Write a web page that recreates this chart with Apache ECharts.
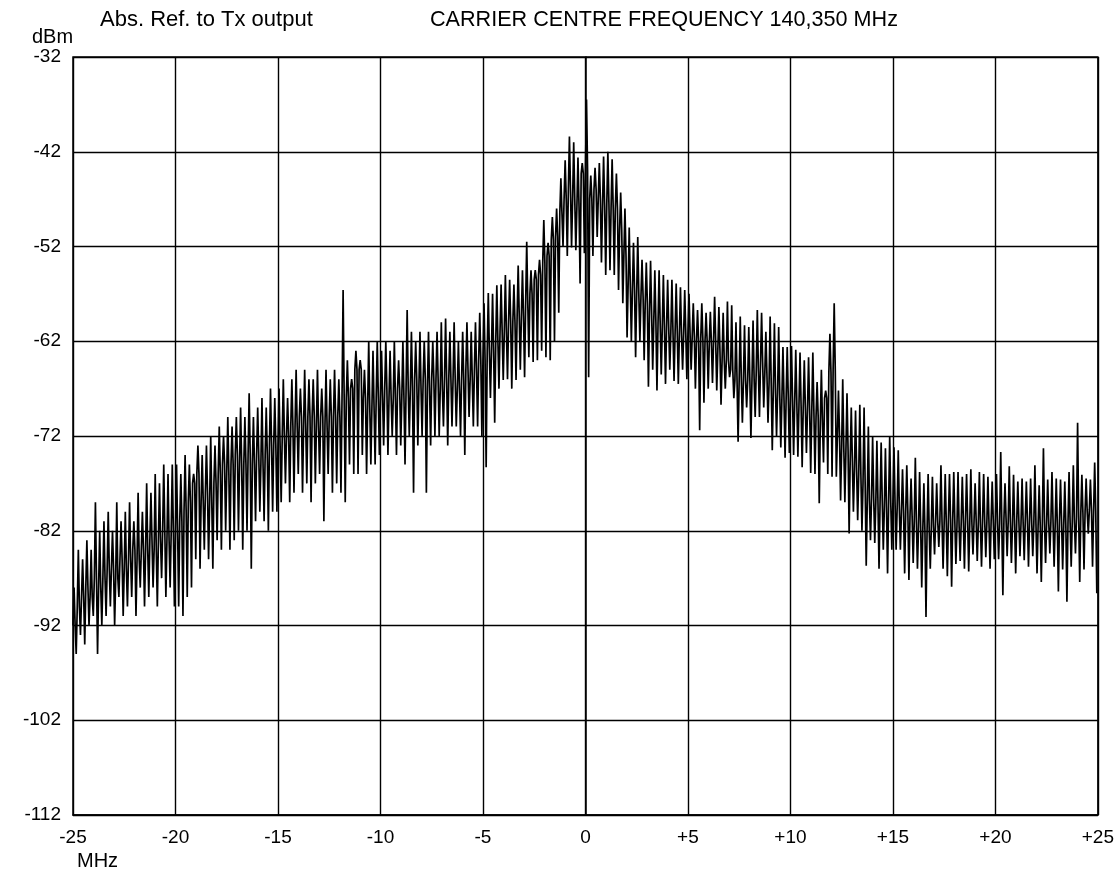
<!DOCTYPE html>
<html><head><meta charset="utf-8">
<script src="https://cdn.jsdelivr.net/npm/echarts@6/dist/echarts.min.js"></script>
<style>html,body{margin:0;padding:0;background:#fff}#c{width:1117px;height:874px}</style>
</head><body><div id="c"></div>
<script>
// Sweep span of the analyser (MHz offset from carrier 140.350 MHz)
const sweepStartMHz = -25;
const sweepStopMHz = 25;
// Display reference (bottom of screen) and top of screen, dBm
const displayBottomDbm = -112;
const displayTopDbm = -32;
const dbPerDiv = 10;
const mhzPerDiv = 5;

// Readings per comb line, 24 per 5 MHz division (one row per division)
const spikeTops = [
  -88, -84, -85, -83, -84, -79, -82, -81, -80, -82, -79, -81, -80, -79, -81, -78, -80, -77, -78, -76, -77, -75, -76, -75,
  -75, -76, -74, -75, -76, -73, -74, -73, -72, -73, -71, -72, -70, -71, -70, -69, -70, -67.5, -70, -69, -68, -69, -67, -68,
  -67, -66, -68, -66, -65, -67, -65, -66, -66, -65, -67, -65, -66, -65, -66, -56.6, -64, -66, -63, -64, -65, -62, -63, -62,
  -63, -62, -63, -62, -64, -62, -58.7, -61, -62, -61, -62, -61, -62, -61, -60, -59.6, -61, -60, -62, -61, -60, -61, -60, -59,
  -58, -56.9, -57, -56.1, -56, -55, -55.5, -56, -54, -54.5, -51.5, -54.5, -54.5, -53.4, -49.2, -51.6, -48.9, -48, -44.8, -42.9, -40.4, -41, -42.6, -43.2,
  -36.5, -44.5, -43.7, -43.2, -42.5, -42, -42.8, -44.3, -46.3, -48, -50, -51.6, -51, -53.4, -53.7, -53.5, -54.5, -54.5, -55, -55.5, -55.5, -55.9, -56.3, -56.6,
  -57, -58, -58.7, -58, -59, -58.9, -57.3, -58.4, -59, -57.8, -58.2, -60, -59.4, -60.3, -60.5, -59.8, -58.7, -59, -61, -59.4, -60.1, -60.5, -62.6, -62.6,
  -62.5, -62.9, -63.2, -64, -63.7, -63.2, -66.3, -65, -67.2, -61.2, -58, -67.2, -66, -67.5, -69, -69.3, -68.7, -69, -71, -72.1, -72.5, -72.7, -73.3, -72,
  -73.2, -73.5, -75.5, -75.1, -76.5, -74.3, -75.8, -77, -76, -76.3, -77, -75.1, -76, -76, -75.8, -75.8, -76.3, -76, -75.5, -77, -75.8, -76, -76.3, -76.8,
  -76, -73.7, -77, -75.2, -76.1, -76.8, -76.5, -76.8, -76.5, -75.1, -77.2, -73.3, -76.6, -75.8, -76.5, -76.6, -76.8, -75.8, -75.1, -70.6, -76.1, -76.5, -76.6, -74.8
];
const traceMids = [
  -92, -90, -89, -88, -89, -87, -88, -87, -86, -86, -87, -85, -86, -85, -84, -85, -84, -84, -83, -84, -83, -82, -83, -82,
  -82, -81, -80, -79, -77, -76, -79, -78, -79, -77, -76, -75, -76, -75, -74, -75, -75, -74, -75, -74, -75, -74, -73, -73,
  -73, -72, -72, -71, -71, -70, -71, -70, -70, -71, -70, -71, -70, -70, -70, -68, -68, -67, -65, -65, -68, -69, -69, -68,
  -68, -67, -68, -68, -67, -68, -67, -67, -66, -67, -66, -67, -66, -66, -67, -66, -66, -66, -67, -66, -65, -66, -65, -64,
  -64, -63, -63, -62, -61, -61, -60, -60, -59.4, -59.4, -58, -57, -55.5, -55, -53.7, -53, -51.3, -51, -48.5, -47, -46, -47, -47.8, -44.3,
  -44, -47, -46, -47, -47.8, -47.5, -48, -48, -50.3, -53, -56, -56.6, -57, -57.3, -58, -59, -60, -60.1, -60.5, -60.5, -61, -61, -61.2, -61.2,
  -61.2, -61.5, -62, -61.8, -62, -62.2, -62, -63, -64, -64, -65, -66.1, -66, -66.1, -66.1, -66, -65, -64.3, -65.5, -66.4, -67, -67.5, -68.2, -68,
  -68.2, -68.5, -68.8, -69, -69.2, -69.5, -70, -70.6, -68, -65.3, -65, -72, -73.2, -73.5, -74.5, -75.5, -76, -77, -78.8, -78.5, -79, -78.8, -79.5, -79,
  -79, -79.5, -80, -80, -80.5, -81, -81.5, -82, -82, -81.5, -81, -81, -81.2, -80.8, -81, -81.5, -81, -80.8, -81.2, -81, -81.3, -81, -81.2, -81,
  -81, -81.2, -80.8, -81, -81.3, -81, -81.2, -80.9, -81, -81.3, -81.5, -81, -81.2, -81, -81.4, -81, -81.5, -81.2, -81, -80.5, -80.2, -80, -79.8, -80
];
const spikeBottoms = [
  -95, -93, -94, -92, -91, -95, -92, -91, -90, -92, -89, -91, -90, -89, -91, -88, -90, -89, -88, -90, -87, -89, -88, -90,
  -90, -91, -89, -88, -85, -86, -84, -85, -86, -83, -84, -82, -84, -83, -82, -84, -82, -86, -81, -80, -81, -82, -80, -80,
  -79, -77, -79, -78, -76, -78, -77, -79, -77, -76, -81, -76, -78, -77, -78, -79, -75, -76, -76, -74, -76, -75, -75, -74,
  -73, -74, -72, -74, -73, -75, -72, -78, -73, -72, -78, -73, -72, -72, -71, -73, -71, -71, -72, -74, -70, -71, -71, -72,
  -75.3, -68, -70.6, -67, -66.1, -66, -67, -66.1, -65, -65.8, -63.7, -64.2, -64, -63, -63.7, -64, -62, -59, -52, -53, -52.1, -52.4, -55.9, -52.7,
  -65.8, -53, -51, -53.7, -55, -54.5, -55, -56.6, -58, -61.6, -62, -63.7, -62, -64, -66.8, -65, -67.2, -65.5, -66.5, -65, -66.2, -66.5, -65, -66,
  -65, -67, -71.4, -68.5, -67, -66.4, -67.2, -68.7, -67, -65.8, -68, -72.6, -70.6, -69, -72.2, -70, -70, -69, -70.6, -73.5, -72, -73.2, -74.3, -73.8,
  -74, -74.2, -75.3, -73.8, -75.9, -76, -79.1, -74.8, -76, -76.3, -76.3, -78.8, -79, -82.3, -80, -80.9, -82, -85.7, -83, -83.3, -86, -84, -86.5, -84,
  -84, -84, -86.5, -87.2, -85.4, -86, -88, -91.1, -86, -84.5, -83.7, -86, -86.8, -87.9, -85.5, -85.2, -86, -86.3, -84.5, -85.2, -85.8, -84.8, -86, -85,
  -85, -88.8, -84.7, -85.4, -86.5, -84.7, -85.1, -85.8, -84.7, -86.5, -87.4, -85.4, -84.4, -85.8, -88.4, -86.1, -89.5, -85.8, -84.4, -87.4, -86.1, -82.3, -85.8, -88.6
];

const titleLeft = 'Abs. Ref. to Tx output';
const titleRight = 'CARRIER CENTRE FREQUENCY 140,350 MHz';
const yUnit = 'dBm';
const xUnit = 'MHz';

// Build trace: each comb line is drawn mid -> top -> mid -> bottom across its frequency bin
const nLines = spikeTops.length;
const bin = (sweepStopMHz - sweepStartMHz) / nLines;
const trace = [];
for (let i = 0; i < nLines; i++) {
  const f = sweepStartMHz + i * bin;
  const seq = [traceMids[i], spikeTops[i], traceMids[i], spikeBottoms[i]];
  for (let k = 0; k < 4; k++) {
    trace.push([f + k * bin / 4, seq[k] - displayBottomDbm]);
  }
}

const FONT = '"Liberation Sans", Arial, Helvetica, sans-serif';
const chart = echarts.init(document.getElementById('c'), null, {renderer: 'canvas'});
chart.setOption({
  backgroundColor: '#ffffff',
  animation: false,
  grid: {left: 73, right: 18, top: 57, bottom: 59, show: true, borderColor: '#000', borderWidth: 1.5, backgroundColor: 'transparent'},
  xAxis: {
    type: 'value', min: sweepStartMHz, max: sweepStopMHz, interval: mhzPerDiv,
    axisLine: {show: true, lineStyle: {color: '#000', width: 1.5}},
    axisTick: {show: false},
    splitLine: {show: true, lineStyle: {color: '#000', width: 1.4}},
    axisLabel: {color: '#000', fontSize: 19, fontFamily: FONT, margin: 13,
      formatter: v => (v > 0 ? '+' + v : String(v))}
  },
  yAxis: {
    type: 'value', min: 0, max: displayTopDbm - displayBottomDbm, interval: dbPerDiv,
    axisLine: {show: true, lineStyle: {color: '#000', width: 1.5}},
    axisTick: {show: false},
    splitLine: {show: true, lineStyle: {color: '#000', width: 1.4}},
    axisLabel: {color: '#000', fontSize: 19, fontFamily: FONT, margin: 12,
      formatter: v => String(v + displayBottomDbm)}
  },
  series: [{
    type: 'line', data: trace, showSymbol: false, symbol: 'none', sampling: null,
    lineStyle: {color: '#000', width: 1.7}, z: 3
  }],
  graphic: [
    {type: 'text', left: 100, top: 9, style: {text: titleLeft, font: '22px ' + FONT, fill: '#000'}},
    {type: 'text', left: 430, top: 9, style: {text: titleRight, font: '21.6px ' + FONT, fill: '#000'}},
    {type: 'text', left: 32, top: 27, style: {text: yUnit, font: '20px ' + FONT, fill: '#000'}},
    {type: 'text', left: 77, top: 851, style: {text: xUnit, font: '20px ' + FONT, fill: '#000'}}
  ]
});
</script>
</body></html>
